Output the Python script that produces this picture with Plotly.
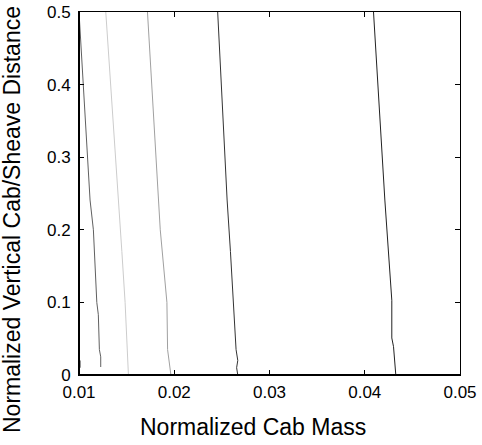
import plotly.graph_objects as go

# Contour lines: (normalized cab mass, normalized vertical distance)
c1_x = [0.01000, 0.01056, 0.01116, 0.01151, 0.01187, 0.01203, 0.01214, 0.01228, 0.01228]
c1_y = [0.500, 0.383, 0.241, 0.200, 0.100, 0.083, 0.035, 0.025, 0.011]

c2_x = [0.01281, 0.01350, 0.01414, 0.01450, 0.01484, 0.01505, 0.01519]
c2_y = [0.500, 0.370, 0.241, 0.170, 0.100, 0.050, 0.000]

c3_x = [0.01719, 0.01775, 0.01835, 0.01853, 0.01923, 0.01930, 0.01965]
c3_y = [0.500, 0.370, 0.241, 0.200, 0.100, 0.035, 0.000]

c4_x = [0.02456, 0.02505, 0.02555, 0.02590, 0.02618, 0.02649, 0.02667, 0.02655, 0.02667]
c4_y = [0.500, 0.370, 0.241, 0.170, 0.100, 0.035, 0.020, 0.010, 0.000]

c5_x = [0.04092, 0.04150, 0.04211, 0.04284, 0.04284, 0.04302, 0.04316, 0.04326]
c5_y = [0.500, 0.370, 0.241, 0.103, 0.051, 0.039, 0.021, 0.000]

c0_x = [0.01010, 0.01010]
c0_y = [0.010, 0.020]

series = [
    (c0_x, c0_y, "#111111"),
    (c1_x, c1_y, "#606060"),
    (c2_x, c2_y, "#cccccc"),
    (c3_x, c3_y, "#a0a0a0"),
    (c4_x, c4_y, "#333333"),
    (c5_x, c5_y, "#222222"),
]

x_ticks = [0.01, 0.02, 0.03, 0.04, 0.05]
x_labels = ["0.01", "0.02", "0.03", "0.04", "0.05"]
y_ticks = [0, 0.1, 0.2, 0.3, 0.4, 0.5]
y_labels = ["0", "0.1", "0.2", "0.3", "0.4", "0.5"]

fig = go.Figure()
for xs, ys, col in series:
    fig.add_trace(go.Scatter(x=xs, y=ys, mode="lines",
                             line=dict(color=col, width=1),
                             showlegend=False, hoverinfo="skip"))

font = "Liberation Sans, Arial, sans-serif"
fig.update_layout(
    width=482, height=445,
    margin=dict(l=79, r=22, t=12, b=70, autoexpand=False),
    paper_bgcolor="white", plot_bgcolor="white",
    font=dict(family=font, size=17, color="black"),
    showlegend=False,
)
fig.update_xaxes(range=[0.01, 0.05], tickvals=x_ticks, ticktext=x_labels,
                 ticks="inside", ticklen=5, tickcolor="black",
                 showline=True, linecolor="black", linewidth=1, mirror="ticks",
                 showgrid=False, zeroline=False, ticklabelstandoff=2,
                 ticklabeloverflow="allow")
fig.update_yaxes(range=[0, 0.5], tickvals=y_ticks, ticktext=y_labels,
                 ticks="inside", ticklen=5, tickcolor="black",
                 showline=True, linecolor="black", linewidth=1, mirror="ticks",
                 showgrid=False, zeroline=False, ticklabelstandoff=4)

# thicker left and bottom axis lines
fig.add_shape(type="line", xref="x domain", yref="y domain", x0=0, x1=0, y0=0, y1=1,
              line=dict(color="black", width=2))
fig.add_shape(type="line", xref="x domain", yref="y domain", x0=0, x1=1, y0=0, y1=0,
              line=dict(color="black", width=2))

fig.add_annotation(text="Normalized Cab Mass", xref="paper", yref="paper",
                   x=0.458, y=0, xanchor="center", yanchor="middle", yshift=-52,
                   showarrow=False, font=dict(family=font, size=23, color="black"))
fig.add_annotation(text="Normalized Vertical Cab/Sheave Distance", xref="paper", yref="paper",
                   x=0, y=0.427, xanchor="center", yanchor="middle", xshift=-67,
                   textangle=-90, showarrow=False,
                   font=dict(family=font, size=23, color="black"))

fig.write_html("out.html", config={"displayModeBar": False},
               post_script="document.body.style.margin='0px';")
